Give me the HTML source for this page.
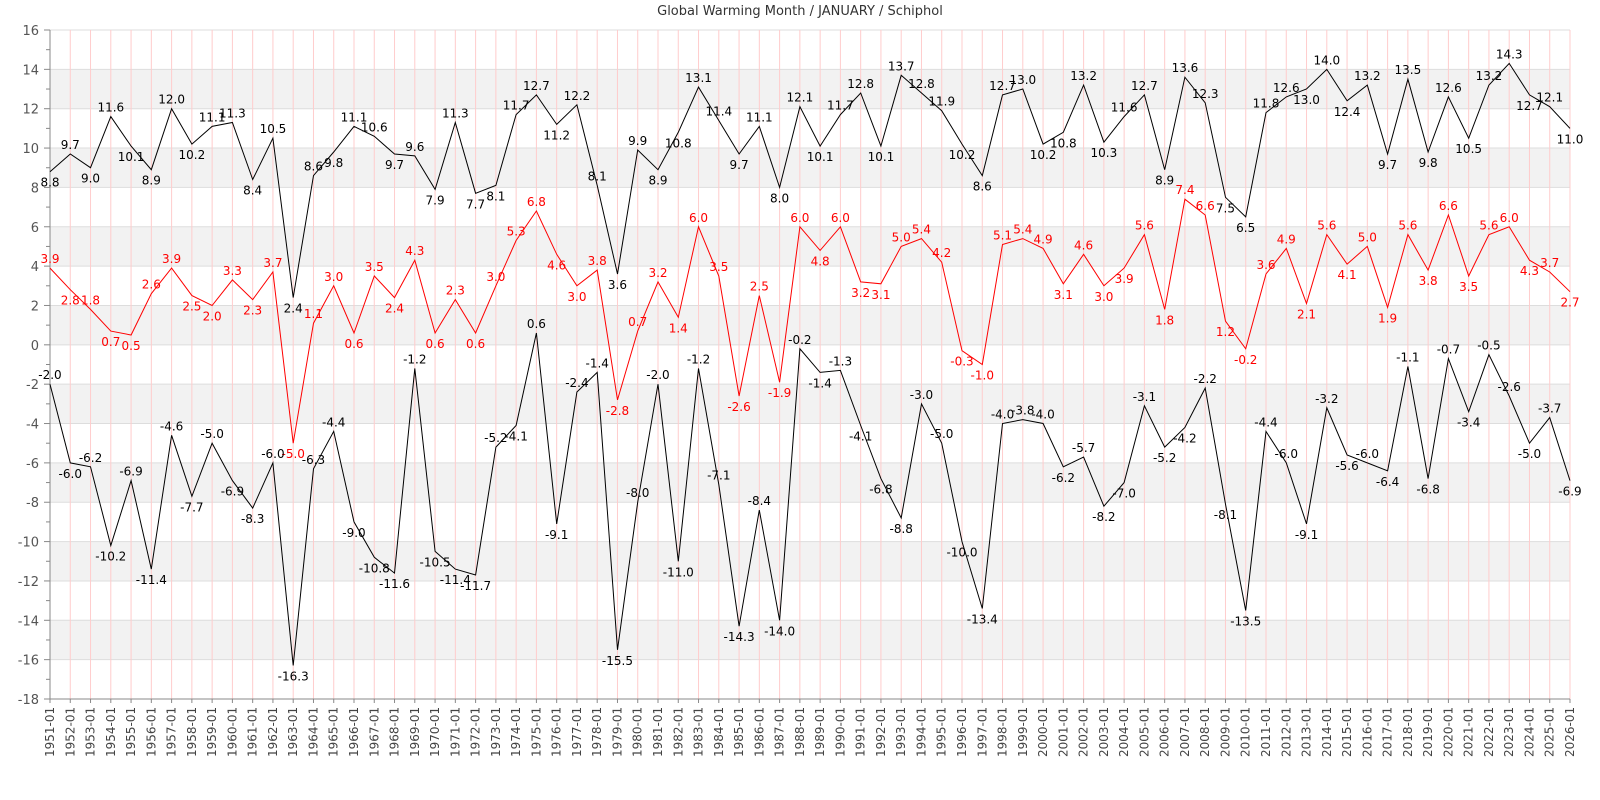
<!DOCTYPE html>
<html><head><meta charset="utf-8"><style>
html,body{margin:0;padding:0;background:#fff;}
svg{display:block;font-family:"DejaVu Sans","Liberation Sans",sans-serif;}
</style></head><body>
<svg id="c" width="1600" height="800" xmlns="http://www.w3.org/2000/svg"></svg>
<script>
var top_=[8.8,9.7,9.0,11.6,10.1,8.9,12.0,10.2,11.1,11.3,8.4,10.5,2.4,8.6,9.8,11.1,10.6,9.7,9.6,7.9,11.3,7.7,8.1,11.7,12.7,11.2,12.2,8.1,3.6,9.9,8.9,10.8,13.1,11.4,9.7,11.1,8.0,12.1,10.1,11.7,12.8,10.1,13.7,12.8,11.9,10.2,8.6,12.7,13.0,10.2,10.8,13.2,10.3,11.6,12.7,8.9,13.6,12.3,7.5,6.5,11.8,12.6,13.0,14.0,12.4,13.2,9.7,13.5,9.8,12.6,10.5,13.2,14.3,12.7,12.1,11.0];
var mid=[3.9,2.8,1.8,0.7,0.5,2.6,3.9,2.5,2.0,3.3,2.3,3.7,-5.0,1.1,3.0,0.6,3.5,2.4,4.3,0.6,2.3,0.6,3.0,5.3,6.8,4.6,3.0,3.8,-2.8,0.7,3.2,1.4,6.0,3.5,-2.6,2.5,-1.9,6.0,4.8,6.0,3.2,3.1,5.0,5.4,4.2,-0.3,-1.0,5.1,5.4,4.9,3.1,4.6,3.0,3.9,5.6,1.8,7.4,6.6,1.2,-0.2,3.6,4.9,2.1,5.6,4.1,5.0,1.9,5.6,3.8,6.6,3.5,5.6,6.0,4.3,3.7,2.7];
var bot=[-2.0,-6.0,-6.2,-10.2,-6.9,-11.4,-4.6,-7.7,-5.0,-6.9,-8.3,-6.0,-16.3,-6.3,-4.4,-9.0,-10.8,-11.6,-1.2,-10.5,-11.4,-11.7,-5.2,-4.1,0.6,-9.1,-2.4,-1.4,-15.5,-8.0,-2.0,-11.0,-1.2,-7.1,-14.3,-8.4,-14.0,-0.2,-1.4,-1.3,-4.1,-6.8,-8.8,-3.0,-5.0,-10.0,-13.4,-4.0,-3.8,-4.0,-6.2,-5.7,-8.2,-7.0,-3.1,-5.2,-4.2,-2.2,-8.1,-13.5,-4.4,-6.0,-9.1,-3.2,-5.6,-6.0,-6.4,-1.1,-6.8,-0.7,-3.4,-0.5,-2.6,-5.0,-3.7,-6.9];
var L=50,R=1570,T=30,B=699;
function X(i){return L+i*(R-L)/75;}
function Y(v){return T+(16-v)*(B-T)/34;}
var s='';
s+='<text x="800" y="15" font-size="13" fill="#333" text-anchor="middle">Global Warming Month / JANUARY / Schiphol</text>';
for(var v=-18;v<16;v+=2){ if(((v+18)/2)%2==1){ s+='<rect x="'+L+'" y="'+Y(v+2)+'" width="'+(R-L)+'" height="'+(Y(v)-Y(v+2))+'" fill="#f2f2f2"/>'; } }
for(var v=-18;v<=16;v+=2){ s+='<line x1="'+L+'" x2="'+R+'" y1="'+Y(v)+'" y2="'+Y(v)+'" stroke="#ddd"/>'; s+='<text x="39" y="'+(Y(v)+5)+'" font-size="13" fill="#555" text-anchor="end">'+v+'</text>'; s+='<line x1="44" x2="50" y1="'+Y(v)+'" y2="'+Y(v)+'" stroke="#888"/>';}
for(var v=-17;v<16;v+=2){ s+='<line x1="46" x2="50" y1="'+Y(v)+'" y2="'+Y(v)+'" stroke="#888"/>';}
for(var i=0;i<76;i++){var x=X(i); if(i>0) s+='<line x1="'+x+'" x2="'+x+'" y1="'+T+'" y2="'+B+'" stroke="#ffcccc"/>';
 var lab=(1951+i)+'-01'; s+='<text transform="translate('+(x+4)+',757) rotate(-90)" font-size="12" fill="#444">'+lab+'</text>';
 s+='<line x1="'+x+'" x2="'+x+'" y1="'+B+'" y2="'+(B+4)+'" stroke="#888"/>';}
s+='<line x1="'+L+'" x2="'+L+'" y1="'+T+'" y2="'+B+'" stroke="#888"/>';
s+='<line x1="'+L+'" x2="'+R+'" y1="'+B+'" y2="'+B+'" stroke="#888"/>';
function series(d,col){var p='';for(var i=0;i<d.length;i++)p+=(i?'L':'M')+X(i).toFixed(1)+' '+Y(d[i]).toFixed(1);
 s+='<path d="'+p+'" fill="none" stroke="'+col+'" stroke-width="1"/>';
 for(var i=0;i<d.length;i++){var a=i>0?d[i-1]:d[i+1],b=i<d.length-1?d[i+1]:d[i-1];
  var up=d[i]>=(a+b)/2; var y=up?Y(d[i])-5:Y(d[i])+15;
  s+='<text x="'+X(i)+'" y="'+y+'" font-size="12" fill="'+col+'" text-anchor="middle">'+d[i].toFixed(1)+'</text>';}}
series(top_,'#000');series(mid,'#f00');series(bot,'#000');
document.getElementById('c').innerHTML=s;
</script>
</body></html>
